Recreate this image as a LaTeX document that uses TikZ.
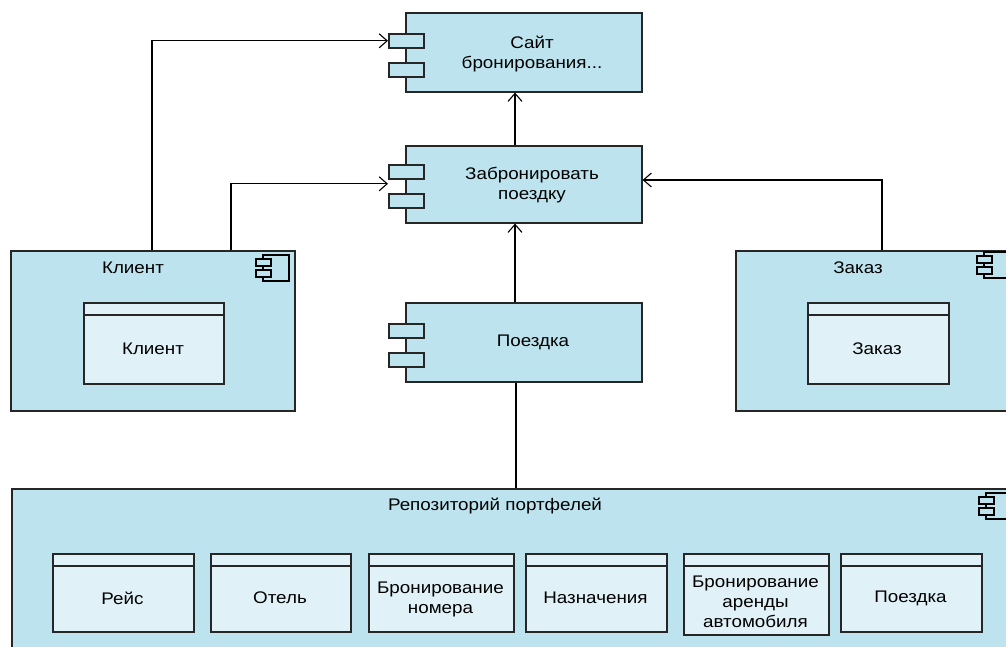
\documentclass[tikz,border=0pt]{standalone}
\usepackage{fontspec}
\setmainfont{Liberation Sans}[FakeStretch=1.12]
\usetikzlibrary{arrows.meta,calc}
\definecolor{compfill}{HTML}{BDE4EE}
\definecolor{classfill}{HTML}{E0F2F8}
\definecolor{edgecol}{HTML}{262626}
\tikzset{
  box/.style={draw=edgecol, line width=1.6pt, inner sep=0pt, anchor=north west},
  compbox/.style={box, fill=compfill},
  classbox/.style={box, fill=classfill},
  port/.style={box, fill=compfill, minimum width=35pt, minimum height=14pt},
  txt/.style={font=\fontsize{16.8}{20}\selectfont, text=black, align=center, inner sep=0pt},
  conn/.style={draw=black, line width=1.1pt},
  arr/.style={conn, -{Straight Barb[length=8pt,width=14pt]}},
  compicon/.pic={
    \draw[line width=1.1pt, fill=compfill] (7,0) rectangle (33,26);
    \draw[line width=1.1pt, fill=compfill] (0,4) rectangle (15,11);
    \draw[line width=1.1pt, fill=compfill] (0,15) rectangle (15,22);
  }
}
\newcommand{\classnode}[5]{% name, x, y, width, height
  \node[classbox, minimum width=#4pt, minimum height=#5pt] (#1) at (#2,#3) {};
  \draw[edgecol, line width=1.6pt] ($(#1.north west)+(0,13)$) -- ($(#1.north east)+(0,13)$);
}
\begin{document}
\begin{tikzpicture}[x=1pt, y=-1pt]
\useasboundingbox (0,0) rectangle (1006,647);
\clip (0,0) rectangle (1006,647);
\fill[white] (0,0) rectangle (1006,647);

% --- top components with port rectangles ---
\node[compbox, minimum width=236pt, minimum height=79pt] (site) at (405,12) {};
\node[port] (sp1) at (388,33) {};
\node[port] (sp2) at (388,62) {};
\node[txt] (sitet) at (532,54) {Сайт\\бронирования...};

\node[compbox, minimum width=236pt, minimum height=77pt] (book) at (405,145) {};
\node[port] (bp1) at (388,164) {};
\node[port] (bp2) at (388,193) {};
\node[txt] (bookt) at (532,185) {Забронировать\\поездку};

\node[compbox, minimum width=236pt, minimum height=79pt] (trip) at (405,302) {};
\node[port] (tp1) at (388,323) {};
\node[port] (tp2) at (388,352) {};
\node[txt] (tript) at (533,342) {Поездка};

% --- Клиент ---
\node[compbox, minimum width=284pt, minimum height=160pt] (client) at (10,250) {};
\pic at (256,255) {compicon};
\node[txt] (clientt) at (133,268) {Клиент};
\classnode{clientc}{83}{302}{140}{81}
\node[txt] at (153,349) {Клиент};

% --- Заказ ---
\node[compbox, minimum width=280pt, minimum height=160pt] (order) at (735,250) {};
\pic at (977,252) {compicon};
\node[txt] (ordert) at (858,268) {Заказ};
\classnode{orderc}{807}{302}{141}{81}
\node[txt] at (877,349) {Заказ};

% --- Репозиторий портфелей ---
\node[compbox, minimum width=1007pt, minimum height=180pt] (repo) at (11,488) {};
\pic at (979,493) {compicon};
\node[txt] (repot) at (495,506) {Репозиторий портфелей};

\classnode{c1}{52}{553}{141}{78}
\node[txt] at (122.5,598) {Рейс};
\classnode{c2}{210}{553}{140}{78}
\node[txt] at (280,598) {Отель};
\classnode{c3}{368}{553}{145}{78}
\node[txt] at (440.5,599) {Бронирование\\номера};
\classnode{c4}{525}{553}{141}{78}
\node[txt] at (595.5,598) {Назначения};
\classnode{c5}{683}{553}{145}{81}
\node[txt] at (755.5,602) {Бронирование\\аренды\\автомобиля};
\classnode{c6}{840}{553}{141}{78}
\node[txt] at (910.5,598) {Поездка};

% --- connectors ---
\coordinate (bookbot) at ($(book.south west)+(110,0)$);
\coordinate (sitebot) at ($(site.south west)+(110,0)$);
\coordinate (booktop) at ($(book.north west)+(110,0)$);
\coordinate (triptop) at ($(trip.north west)+(110,0)$);
\coordinate (tripbot) at ($(trip.south west)+(111,0)$);
\coordinate (repotop) at ($(repo.north west)+(505,0)$);
\coordinate (cl1) at ($(client.north west)+(142,0)$);
\coordinate (cl2) at ($(client.north west)+(221,0)$);
\coordinate (ord1) at ($(order.north west)+(147,0)$);
\coordinate (bookin) at ($(bp1.west)+(0,12)$);
\coordinate (siteup) at ($(sp1.west)$);
\coordinate (bookright) at ($(book.north east)+(0,35)$);

\draw[arr] (cl1) |- (siteup);
\draw[arr] (cl2) |- (bookin);
\draw[arr] (ord1) |- (bookright);
\draw[arr] (booktop) -- (sitebot);
\draw[arr] (triptop) -- (bookbot);
\draw[conn] (tripbot) -- (repotop);
\end{tikzpicture}
\end{document}
